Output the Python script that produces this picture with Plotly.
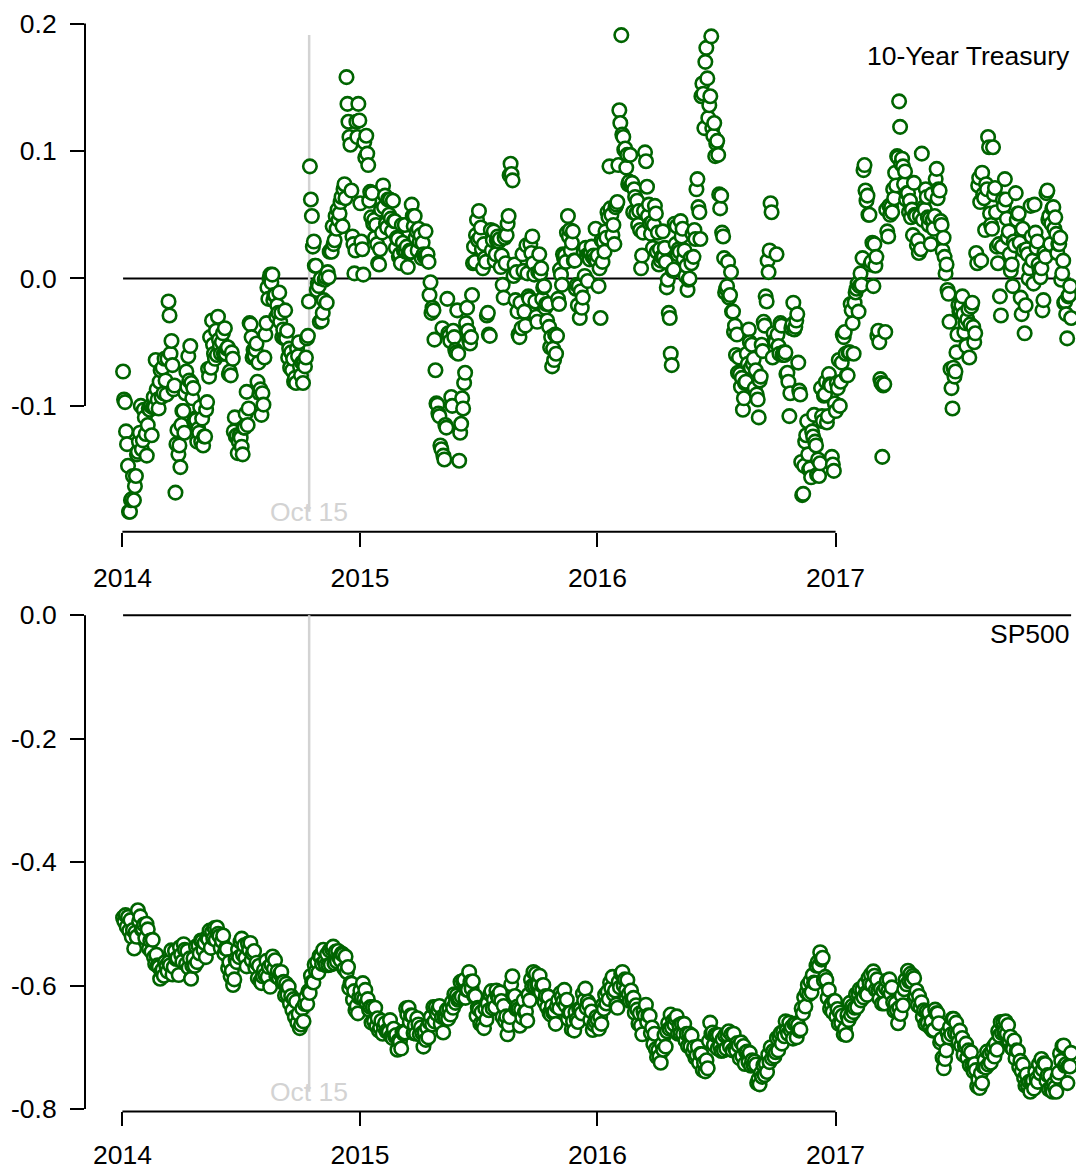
import pandas as pd
import plotly.graph_objects as go

# 10-Year Treasury readings, twenty per month
treasury_2014 = [
    -0.073, -0.095, -0.097, -0.120, -0.130, -0.147, -0.183, -0.183, -0.174, -0.173, -0.155, -0.174, -0.163, -0.155, -0.138, -0.136, -0.128, -0.121, -0.100, -0.134,
    -0.127, -0.103, -0.109, -0.122, -0.139, -0.115, -0.102, -0.103, -0.100, -0.123, -0.101, -0.093, -0.101, -0.064, -0.087, -0.095, -0.102, -0.081, -0.072, -0.093,
    -0.070, -0.090, -0.063, -0.080, -0.091, -0.063, -0.018, -0.029, -0.059, -0.049, -0.068, -0.087, -0.084, -0.168, -0.130, -0.119, -0.138, -0.131, -0.148, -0.115,
    -0.104, -0.104, -0.121, -0.090, -0.073, -0.085, -0.061, -0.080, -0.053, -0.082, -0.094, -0.086, -0.112, -0.110, -0.111, -0.128, -0.118, -0.121, -0.101, -0.128,
    -0.110, -0.131, -0.124, -0.124, -0.103, -0.097, -0.071, -0.077, -0.046, -0.070, -0.033, -0.052, -0.059, -0.063, -0.041, -0.060, -0.030, -0.048, -0.053, -0.059,
    -0.050, -0.043, -0.059, -0.039, -0.059, -0.055, -0.054, -0.075, -0.073, -0.076, -0.058, -0.063, -0.120, -0.109, -0.124, -0.123, -0.137, -0.128, -0.123, -0.125,
    -0.132, -0.138, -0.117, -0.117, -0.106, -0.089, -0.115, -0.102, -0.035, -0.036, -0.046, -0.062, -0.056, -0.061, -0.056, -0.051, -0.081, -0.066, -0.090, -0.087,
    -0.107, -0.090, -0.099, -0.062, -0.044, -0.035, -0.007, -0.016, 0.000, 0.003, -0.003, 0.003, -0.017, -0.013, -0.013, -0.030, -0.021, -0.027, -0.011, -0.034,
    -0.027, -0.046, -0.040, -0.047, -0.025, -0.047, -0.041, -0.062, -0.055, -0.070, -0.058, -0.072, -0.063, -0.081, -0.078, -0.082, -0.055, -0.061, -0.050, -0.069,
    -0.076, -0.066, -0.082, -0.066, -0.069, -0.062, -0.047, -0.045, -0.018, 0.088, 0.062, 0.049, 0.025, 0.029, 0.010, 0.010, -0.009, -0.004, -0.006, -0.034,
    0.000, -0.033, -0.027, -0.017, -0.001, 0.001, -0.019, 0.005, 0.001, 0.021, 0.022, 0.021, 0.041, 0.027, 0.030, 0.049, 0.039, 0.054, 0.046, 0.051,
    0.060, 0.064, 0.041, 0.070, 0.074, 0.063, 0.158, 0.137, 0.123, 0.111, 0.105, 0.069, 0.033, 0.027, 0.004, 0.022, 0.123, 0.111, 0.137, 0.124,
]
treasury_2015 = [
    0.059, 0.029, 0.023, 0.003, 0.107, 0.095, 0.112, 0.098, 0.089, 0.061, 0.068, 0.048, 0.067, 0.043, 0.046, 0.032, 0.042, 0.027, 0.012, 0.011,
    0.023, 0.054, 0.036, 0.073, 0.056, 0.065, 0.043, 0.040, 0.062, 0.050, 0.062, 0.047, 0.037, 0.061, 0.045, 0.045, 0.024, 0.032, 0.031, 0.017,
    0.019, 0.012, 0.042, 0.028, 0.022, 0.042, 0.021, 0.025, 0.009, 0.020, 0.022, 0.021, 0.058, 0.049, 0.041, 0.049, 0.032, 0.037, 0.022, 0.039,
    0.029, 0.034, 0.016, 0.028, 0.019, 0.017, 0.037, 0.017, 0.019, 0.013, -0.013, -0.003, -0.027, -0.023, -0.025, -0.048, -0.072, -0.098, -0.099, -0.106,
    -0.108, -0.131, -0.134, -0.039, -0.139, -0.142, -0.115, -0.117, -0.016, -0.043, -0.045, -0.049, -0.093, -0.100, -0.041, -0.046, -0.056, -0.058, -0.025, -0.059,
    -0.143, -0.121, -0.114, -0.094, -0.102, -0.082, -0.074, -0.035, -0.023, -0.041, -0.048, -0.051, -0.046, -0.013, 0.012, 0.025, 0.013, 0.034, 0.046, 0.030,
    0.053, 0.032, 0.040, 0.023, 0.008, 0.027, 0.016, 0.013, -0.029, -0.027, -0.044, -0.045, 0.038, 0.022, 0.030, 0.037, 0.014, 0.019, 0.030, 0.033,
    0.029, 0.031, 0.009, 0.018, -0.005, -0.015, 0.032, 0.012, 0.034, 0.043, 0.049, 0.081, 0.090, 0.082, 0.077, 0.002, 0.011, -0.017, 0.005, -0.026,
    -0.044, -0.046, -0.019, -0.039, 0.019, 0.006, -0.026, -0.037, 0.026, 0.004, -0.014, -0.016, 0.027, 0.020, 0.033, 0.012, 0.003, -0.018, -0.030, -0.034,
    0.005, 0.019, 0.004, 0.008, -0.016, -0.007, -0.006, -0.023, -0.020, -0.033, -0.020, -0.038, -0.054, -0.046, -0.069, -0.055, -0.064, -0.044, -0.059, -0.045,
    -0.016, -0.020, 0.007, 0.003, -0.005, 0.019, 0.016, 0.018, 0.013, 0.036, 0.049, 0.033, 0.038, 0.022, 0.028, 0.037, 0.014, 0.014, -0.008, -0.005,
    -0.021, -0.006, -0.031, -0.010, -0.023, -0.015, 0.021, 0.002, 0.024, 0.018, -0.002, 0.019, 0.015, 0.020, 0.025, 0.017, 0.018, 0.015, 0.039, 0.014,
]
treasury_2016 = [
    0.018, -0.006, 0.008, -0.031, 0.030, 0.013, 0.029, 0.021, 0.037, 0.032, 0.052, 0.048, 0.088, 0.055, 0.050, 0.034, 0.042, 0.027, 0.056, 0.058,
    0.060, 0.089, 0.132, 0.122, 0.191, 0.113, 0.111, 0.101, 0.102, 0.087, 0.097, 0.074, 0.076, 0.097, 0.073, 0.075, 0.052, 0.070, 0.064, 0.051,
    0.061, 0.042, 0.053, 0.038, 0.008, 0.018, 0.036, 0.053, 0.099, 0.092, 0.072, 0.049, 0.058, 0.043, 0.035, 0.044, 0.024, 0.042, 0.057, 0.051,
    0.021, 0.036, 0.011, 0.023, 0.014, 0.017, 0.037, 0.017, 0.024, 0.013, -0.007, -0.001, -0.027, -0.031, -0.059, -0.068, 0.006, 0.007, 0.043, 0.027,
    0.041, 0.019, 0.023, 0.021, 0.045, 0.033, 0.039, 0.015, 0.022, 0.002, 0.010, -0.009, -0.001, 0.000, 0.016, 0.012, 0.035, 0.017, 0.038, 0.031,
    0.070, 0.078, 0.056, 0.052, 0.031, 0.143, 0.153, 0.145, 0.118, 0.170, 0.181, 0.157, 0.126, 0.136, 0.143, 0.190, 0.118, 0.112, 0.122, 0.096,
    0.106, 0.108, 0.097, 0.066, 0.055, 0.065, 0.036, 0.033, 0.016, -0.011, -0.008, -0.006, 0.013, -0.015, -0.013, 0.005, -0.026, -0.026, -0.042, -0.037,
    -0.060, -0.044, -0.074, -0.062, -0.075, -0.085, -0.078, -0.103, -0.094, -0.082, -0.081, -0.059, -0.067, -0.040, -0.050, -0.070, -0.052, -0.067, -0.063, -0.086,
    -0.072, -0.091, -0.095, -0.109, -0.080, -0.077, -0.052, -0.057, -0.034, -0.037, -0.014, -0.018, 0.014, 0.005, 0.022, 0.059, 0.052, -0.062, -0.043, -0.049,
    -0.050, 0.019, -0.044, -0.053, -0.059, -0.035, -0.037, -0.060, -0.058, -0.060, -0.058, -0.075, -0.074, -0.081, -0.108, -0.090, -0.039, -0.036, -0.019, -0.040,
    -0.038, -0.033, -0.028, -0.066, -0.088, -0.091, -0.144, -0.170, -0.169, -0.147, -0.128, -0.123, -0.112, -0.138, -0.150, -0.149, -0.156, -0.120, -0.124, -0.107,
    -0.128, -0.131, -0.154, -0.142, -0.155, -0.145, -0.086, -0.108, -0.112, -0.092, -0.091, -0.081, -0.113, -0.108, -0.075, -0.083, -0.084, -0.140, -0.146, -0.151,
]
treasury_2017 = [
    -0.098, -0.104, -0.082, -0.086, -0.064, -0.100, -0.081, -0.066, -0.044, -0.046, -0.042, -0.059, -0.076, -0.076, -0.058, -0.058, -0.020, -0.025, -0.035, -0.059,
    -0.019, -0.011, -0.008, -0.004, -0.026, -0.006, 0.004, -0.005, 0.016, 0.085, 0.089, 0.069, 0.061, 0.065, 0.050, 0.050, 0.011, 0.013, 0.028, -0.006,
    0.027, 0.010, 0.017, -0.045, -0.041, -0.050, -0.079, -0.082, -0.140, -0.084, -0.083, -0.042, 0.054, 0.037, 0.033, 0.057, 0.050, 0.056, 0.052, 0.070,
    0.063, 0.083, 0.073, 0.096, 0.095, 0.139, 0.119, 0.090, 0.094, 0.088, 0.074, 0.084, 0.062, 0.067, 0.067, 0.052, 0.061, 0.048, 0.054, 0.034,
    0.075, 0.050, 0.049, 0.026, 0.030, 0.020, 0.049, 0.023, 0.098, 0.046, 0.056, 0.054, 0.070, 0.064, 0.048, 0.042, 0.047, 0.027, 0.066, 0.046,
    0.039, 0.049, 0.078, 0.086, 0.063, 0.070, 0.069, 0.045, 0.042, 0.022, 0.032, 0.017, 0.004, 0.011, -0.009, -0.012, -0.034, -0.071, -0.086, -0.102,
    -0.070, -0.077, -0.073, -0.058, -0.044, -0.021, -0.026, -0.025, -0.021, -0.014, -0.028, -0.042, -0.035, -0.053, -0.032, -0.024, -0.062, -0.036, -0.022, -0.019,
    -0.038, -0.050, -0.043, 0.020, 0.012, 0.073, 0.079, 0.060, 0.014, 0.083, 0.066, 0.063, 0.038, 0.074, 0.070, 0.111, 0.103, 0.051, 0.042, 0.039,
    0.103, 0.066, 0.071, 0.052, 0.025, 0.012, 0.027, -0.014, -0.029, 0.025, 0.062, 0.057, 0.078, 0.062, 0.047, 0.032, 0.037, 0.019, 0.006, 0.011,
    -0.006, 0.029, 0.026, 0.067, 0.046, 0.051, 0.051, 0.028, -0.015, -0.028, 0.039, 0.022, -0.043, -0.021, 0.023, 0.019, 0.000, 0.008, 0.057, 0.033,
    0.014, -0.004, 0.058, 0.036, 0.024, 0.029, 0.011, 0.007, 0.001, 0.008, -0.025, -0.017, 0.020, 0.017, 0.067, 0.069, 0.046, 0.049, 0.027, 0.043,
    0.055, 0.056, 0.039, 0.048, 0.035, 0.020, 0.027, 0.027, 0.032, -0.001, 0.004, 0.014, -0.019, -0.018, -0.028, -0.047, -0.014, -0.013, -0.006, -0.031,
]

# SP500 readings, sixteen per month
sp500_2014 = [
    -0.490, -0.496, -0.486, -0.505, -0.489, -0.511, -0.494, -0.521, -0.510, -0.540, -0.514, -0.521, -0.478, -0.496, -0.488, -0.509,
    -0.508, -0.501, -0.523, -0.500, -0.509, -0.540, -0.527, -0.545, -0.526, -0.554, -0.565, -0.550, -0.567, -0.570, -0.589, -0.577,
    -0.574, -0.584, -0.562, -0.568, -0.577, -0.562, -0.567, -0.543, -0.582, -0.570, -0.544, -0.557, -0.555, -0.583, -0.538, -0.550,
    -0.561, -0.533, -0.542, -0.565, -0.544, -0.571, -0.556, -0.589, -0.568, -0.556, -0.568, -0.537, -0.562, -0.535, -0.548, -0.527,
    -0.528, -0.542, -0.531, -0.554, -0.522, -0.525, -0.511, -0.539, -0.513, -0.524, -0.507, -0.526, -0.506, -0.516, -0.520, -0.539,
    -0.528, -0.519, -0.548, -0.540, -0.541, -0.572, -0.562, -0.585, -0.576, -0.599, -0.590, -0.558, -0.562, -0.542, -0.554, -0.529,
    -0.524, -0.550, -0.535, -0.555, -0.569, -0.532, -0.542, -0.531, -0.559, -0.548, -0.544, -0.571, -0.563, -0.588, -0.568, -0.593,
    -0.596, -0.585, -0.575, -0.583, -0.560, -0.586, -0.570, -0.602, -0.566, -0.553, -0.573, -0.559, -0.585, -0.577, -0.588, -0.581,
    -0.578, -0.595, -0.594, -0.616, -0.597, -0.615, -0.602, -0.629, -0.617, -0.640, -0.622, -0.651, -0.626, -0.660, -0.646, -0.669,
    -0.663, -0.637, -0.658, -0.630, -0.619, -0.630, -0.609, -0.612, -0.584, -0.594, -0.595, -0.566, -0.577, -0.562, -0.579, -0.552,
    -0.554, -0.565, -0.542, -0.561, -0.567, -0.549, -0.567, -0.543, -0.566, -0.541, -0.537, -0.564, -0.545, -0.561, -0.544, -0.555,
    -0.559, -0.548, -0.550, -0.573, -0.553, -0.578, -0.570, -0.604, -0.596, -0.597, -0.623, -0.609, -0.640, -0.633, -0.645, -0.619,
]
sp500_2015 = [
    -0.608, -0.620, -0.596, -0.622, -0.607, -0.628, -0.622, -0.639, -0.635, -0.660, -0.635, -0.658, -0.636, -0.666, -0.653, -0.673,
    -0.668, -0.657, -0.678, -0.667, -0.661, -0.674, -0.672, -0.675, -0.656, -0.682, -0.685, -0.670, -0.682, -0.680, -0.704, -0.689,
    -0.691, -0.702, -0.675, -0.678, -0.676, -0.637, -0.647, -0.636, -0.659, -0.648, -0.649, -0.677, -0.665, -0.678, -0.653, -0.663,
    -0.679, -0.668, -0.677, -0.699, -0.676, -0.688, -0.668, -0.684, -0.660, -0.651, -0.663, -0.635, -0.658, -0.635, -0.646, -0.639,
    -0.633, -0.662, -0.651, -0.676, -0.650, -0.653, -0.639, -0.654, -0.638, -0.647, -0.627, -0.636, -0.614, -0.628, -0.616, -0.623,
    -0.620, -0.594, -0.618, -0.593, -0.591, -0.620, -0.607, -0.607, -0.578, -0.594, -0.605, -0.593, -0.617, -0.617, -0.649, -0.636,
    -0.639, -0.662, -0.643, -0.663, -0.669, -0.637, -0.655, -0.629, -0.640, -0.614, -0.609, -0.637, -0.623, -0.635, -0.608, -0.617,
    -0.621, -0.611, -0.625, -0.651, -0.633, -0.658, -0.650, -0.679, -0.664, -0.651, -0.598, -0.585, -0.620, -0.617, -0.638, -0.634,
    -0.638, -0.665, -0.639, -0.652, -0.624, -0.643, -0.642, -0.657, -0.615, -0.624, -0.590, -0.601, -0.578, -0.600, -0.581, -0.599,
    -0.598, -0.584, -0.611, -0.600, -0.599, -0.627, -0.617, -0.635, -0.618, -0.644, -0.647, -0.633, -0.644, -0.642, -0.662, -0.634,
    -0.624, -0.637, -0.612, -0.618, -0.626, -0.607, -0.632, -0.623, -0.654, -0.644, -0.644, -0.671, -0.658, -0.673, -0.643, -0.655,
    -0.659, -0.638, -0.639, -0.645, -0.613, -0.624, -0.605, -0.636, -0.626, -0.631, -0.656, -0.642, -0.672, -0.663, -0.658, -0.651,
]
sp500_2016 = [
    -0.656, -0.670, -0.651, -0.662, -0.632, -0.638, -0.615, -0.629, -0.610, -0.622, -0.595, -0.604, -0.586, -0.614, -0.608, -0.631,
    -0.636, -0.594, -0.603, -0.581, -0.578, -0.600, -0.590, -0.607, -0.591, -0.614, -0.625, -0.608, -0.624, -0.620, -0.644, -0.632,
    -0.639, -0.662, -0.645, -0.665, -0.679, -0.642, -0.649, -0.631, -0.659, -0.648, -0.649, -0.677, -0.668, -0.695, -0.678, -0.703,
    -0.716, -0.705, -0.715, -0.725, -0.695, -0.704, -0.680, -0.699, -0.674, -0.661, -0.670, -0.647, -0.668, -0.657, -0.663, -0.654,
    -0.650, -0.678, -0.664, -0.678, -0.662, -0.679, -0.662, -0.689, -0.678, -0.698, -0.678, -0.699, -0.681, -0.708, -0.700, -0.717,
    -0.713, -0.699, -0.725, -0.711, -0.711, -0.737, -0.725, -0.739, -0.721, -0.734, -0.690, -0.660, -0.678, -0.676, -0.696, -0.680,
    -0.680, -0.702, -0.680, -0.698, -0.706, -0.687, -0.705, -0.681, -0.702, -0.680, -0.674, -0.699, -0.679, -0.705, -0.678, -0.701,
    -0.705, -0.693, -0.697, -0.718, -0.692, -0.714, -0.698, -0.727, -0.708, -0.707, -0.724, -0.709, -0.730, -0.721, -0.729, -0.723,
    -0.728, -0.758, -0.752, -0.760, -0.742, -0.748, -0.729, -0.745, -0.727, -0.740, -0.712, -0.724, -0.700, -0.718, -0.706, -0.715,
    -0.708, -0.685, -0.705, -0.683, -0.677, -0.694, -0.675, -0.682, -0.658, -0.672, -0.678, -0.660, -0.672, -0.667, -0.686, -0.662,
    -0.662, -0.684, -0.664, -0.673, -0.671, -0.637, -0.645, -0.619, -0.634, -0.611, -0.599, -0.614, -0.593, -0.611, -0.583, -0.595,
    -0.596, -0.568, -0.562, -0.568, -0.546, -0.558, -0.555, -0.592, -0.586, -0.591, -0.620, -0.607, -0.638, -0.630, -0.643, -0.625,
]
sp500_2017 = [
    -0.625, -0.650, -0.638, -0.662, -0.644, -0.661, -0.649, -0.679, -0.670, -0.680, -0.648, -0.656, -0.628, -0.648, -0.633, -0.643,
    -0.636, -0.614, -0.635, -0.613, -0.606, -0.624, -0.607, -0.619, -0.598, -0.612, -0.615, -0.588, -0.597, -0.582, -0.599, -0.577,
    -0.584, -0.607, -0.590, -0.608, -0.621, -0.605, -0.629, -0.609, -0.629, -0.604, -0.592, -0.609, -0.590, -0.613, -0.603, -0.627,
    -0.641, -0.629, -0.640, -0.661, -0.636, -0.646, -0.616, -0.632, -0.606, -0.591, -0.598, -0.576, -0.593, -0.581, -0.593, -0.584,
    -0.588, -0.616, -0.608, -0.632, -0.617, -0.635, -0.627, -0.651, -0.640, -0.662, -0.642, -0.661, -0.644, -0.668, -0.658, -0.673,
    -0.672, -0.639, -0.645, -0.645, -0.661, -0.692, -0.687, -0.717, -0.734, -0.719, -0.705, -0.676, -0.684, -0.667, -0.679, -0.654,
    -0.654, -0.677, -0.660, -0.678, -0.691, -0.673, -0.697, -0.685, -0.712, -0.698, -0.694, -0.717, -0.705, -0.729, -0.708, -0.729,
    -0.739, -0.727, -0.737, -0.763, -0.752, -0.766, -0.742, -0.758, -0.731, -0.721, -0.733, -0.707, -0.728, -0.711, -0.725, -0.707,
    -0.700, -0.715, -0.694, -0.704, -0.674, -0.681, -0.659, -0.677, -0.659, -0.676, -0.658, -0.678, -0.664, -0.690, -0.683, -0.701,
    -0.703, -0.689, -0.718, -0.705, -0.706, -0.732, -0.722, -0.739, -0.728, -0.750, -0.762, -0.744, -0.762, -0.756, -0.772, -0.756,
    -0.754, -0.767, -0.740, -0.751, -0.756, -0.727, -0.742, -0.719, -0.736, -0.726, -0.727, -0.754, -0.745, -0.768, -0.746, -0.767,
    -0.772, -0.759, -0.765, -0.772, -0.748, -0.741, -0.710, -0.722, -0.698, -0.697, -0.730, -0.727, -0.758, -0.730, -0.731, -0.709,
]

year_ticks = ["2014-01-01", "2015-01-01", "2016-01-01", "2017-01-01"]
year_labels = ["2014", "2015", "2016", "2017"]
treasury_ticks = [-0.1, 0.0, 0.1, 0.2]
treasury_labels = ["-0.1", "0.0", "0.1", "0.2"]
sp500_ticks = [-0.8, -0.6, -0.4, -0.2, 0.0]
sp500_labels = ["-0.8", "-0.6", "-0.4", "-0.2", "0.0"]
event_date = "2014-10-15"
event_label = "Oct 15"

treasury = treasury_2014 + treasury_2015 + treasury_2016 + treasury_2017
sp500 = sp500_2014 + sp500_2015 + sp500_2016 + sp500_2017
first_day, last_day = "2014-01-02", "2017-12-29"
treasury_dates = pd.date_range(first_day, last_day, periods=len(treasury))
sp500_dates = pd.date_range(first_day, last_day, periods=len(sp500))

GREEN = "#006400"
GREY = "#d3d3d3"
FONT = "Liberation Sans, Arial, Helvetica, sans-serif"
FS = 26.5

marker = dict(symbol="circle", size=13.5, color="white", line=dict(color=GREEN, width=2.6))

fig = go.Figure()
fig.add_trace(go.Scatter(x=treasury_dates, y=treasury, mode="markers", marker=marker,
                         xaxis="x", yaxis="y", showlegend=False, hoverinfo="skip"))
fig.add_trace(go.Scatter(x=sp500_dates, y=sp500, mode="markers", marker=marker,
                         xaxis="x2", yaxis="y2", showlegend=False, hoverinfo="skip"))

tick_style = dict(ticks="outside", ticklen=14, tickwidth=2, tickcolor="black",
                  showgrid=False, zeroline=False, showline=False, automargin=False,
                  tickfont=dict(family=FONT, size=FS, color="black"), fixedrange=True)
x_style = dict(type="date", range=["2013-11-04 12:00", "2018-01-05 12:00"],
               tickmode="array", tickvals=year_ticks, ticktext=year_labels,
               domain=[0, 1], **tick_style)

fig.update_layout(
    width=1076, height=1169,
    margin=dict(l=85, r=0, t=0, b=0),
    paper_bgcolor="white", plot_bgcolor="white",
    xaxis=dict(anchor="y", ticklabelstandoff=8, **x_style),
    xaxis2=dict(anchor="y2", ticklabelstandoff=6, **x_style),
    yaxis=dict(anchor="x", domain=[0.54516, 0.98666], range=[-0.1987, 0.2063],
               tickmode="array", tickvals=treasury_ticks, ticktext=treasury_labels,
               ticklabelstandoff=8, **tick_style),
    yaxis2=dict(anchor="x2", domain=[0.04919, 0.49016], range=[-0.804, 0.031],
                tickmode="array", tickvals=sp500_ticks, ticktext=sp500_labels,
                ticklabelstandoff=8, **tick_style),
)

panels = [("x", "y", treasury, treasury_ticks, "10-Year Treasury", 56),
          ("x2", "y2", sp500, sp500_ticks, "SP500", 634)]
for xa, ya, vals, ticks, title, title_px in panels:
    low, high = min(0.0, min(vals)), max(0.0, max(vals))
    # zero reference across the sampled period
    fig.add_shape(type="line", xref=xa, yref=ya, x0=first_day, x1=last_day, y0=0, y1=0,
                  line=dict(color="black", width=2), layer="below")
    # event marker
    fig.add_shape(type="line", xref=xa, yref=ya, x0=event_date, x1=event_date, y0=low, y1=high,
                  line=dict(color=GREY, width=2.5), layer="below")
    # detached axis lines spanning the tick range only
    fig.add_shape(type="line", xref=xa, yref=ya + " domain", x0=year_ticks[0], x1=year_ticks[-1],
                  y0=0, y1=0, line=dict(color="black", width=2))
    fig.add_shape(type="line", xref=xa + " domain", yref=ya, x0=0, x1=0, y0=ticks[0], y1=ticks[-1],
                  line=dict(color="black", width=2))
    fig.add_annotation(xref=xa, yref=ya, x=event_date, y=min(vals), text=event_label,
                       showarrow=False, xanchor="center", yanchor="middle",
                       font=dict(family=FONT, size=FS, color=GREY))
    fig.add_annotation(xref="paper", yref="paper", x=(1072 - 85) / 991, y=1 - title_px / 1169,
                       text=title, showarrow=False, xanchor="right", yanchor="middle",
                       font=dict(family=FONT, size=FS, color="black"))

fig.write_html("out.html", config={"displayModeBar": False})
